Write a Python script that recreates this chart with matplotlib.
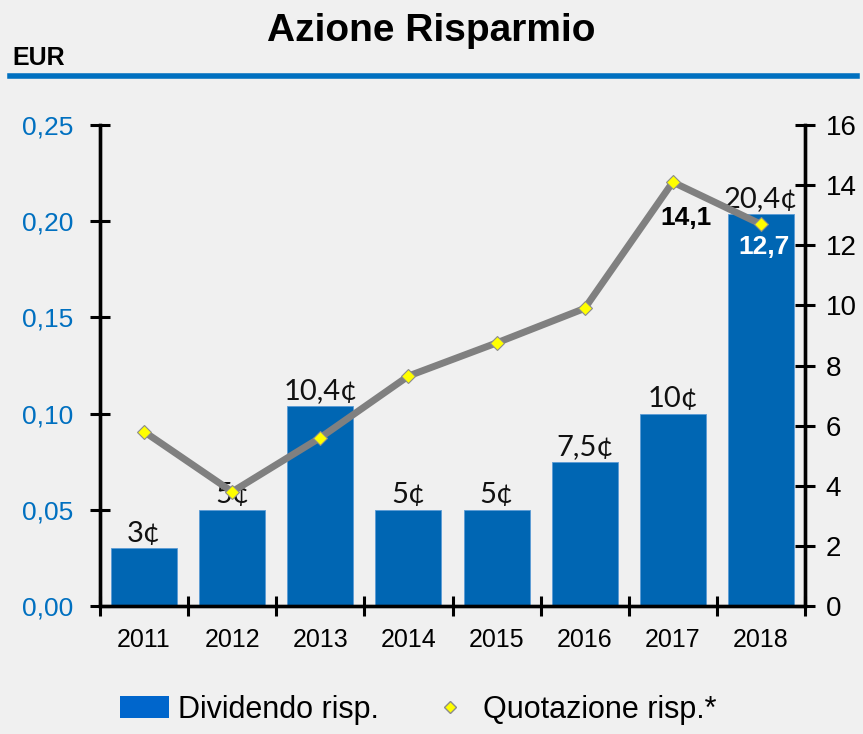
import numpy as np
import matplotlib
matplotlib.use("Agg")
import matplotlib.pyplot as plt
from matplotlib.lines import Line2D
from matplotlib.patches import Patch

anni = ["2011", "2012", "2013", "2014", "2015", "2016", "2017", "2018"]
dividendo = [0.03, 0.05, 0.104, 0.05, 0.05, 0.075, 0.10, 0.204]
etichette_div = ["3¢", "5¢", "10,4¢", "5¢", "5¢", "7,5¢", "10¢", "20,4¢"]
quotazione = [5.8, 3.8, 5.6, 7.65, 8.75, 9.9, 14.1, 12.7]
tick_sx = [0.0, 0.05, 0.10, 0.15, 0.20, 0.25]
tick_dx = [0, 2, 4, 6, 8, 10, 12, 14, 16]

BLU = "#0066b3"
BLU_TICK = "#0070c0"
SFONDO = "#f0f0f0"
SANS = ["Liberation Sans", "DejaVu Sans"]
ETIC = ["Lato", "DejaVu Sans"]

fig = plt.figure(figsize=(8.63, 7.34), dpi=100, facecolor=SFONDO)
ax = fig.add_axes([100 / 863, 1 - 606 / 734, 705 / 863, 481 / 734])
ax.set_facecolor(SFONDO)
ax2 = ax.twinx()

x = np.arange(len(anni))
ax.bar(x, dividendo, width=0.75, color=BLU, edgecolor="#5b9bd5", linewidth=0.6, zorder=2)
for xi, v, t in zip(x, dividendo, etichette_div):
    ax.annotate(t, (xi, v), xytext=(0, 1), textcoords="offset points",
                ha="center", va="bottom", fontsize=21, family=ETIC, color="#111111")

ax.set_xlim(-0.5, len(anni) - 0.5)
ax.set_ylim(0, 0.25)
ax.set_yticks(tick_sx)
ax.set_yticklabels([f"{t:.2f}".replace(".", ",") for t in tick_sx],
                   color=BLU_TICK, fontsize=19, family=SANS)
ax.set_xticks(x)
ax.set_xticklabels(anni, fontsize=18, family=SANS)
ax.set_xticks(np.arange(-0.5, len(anni), 1), minor=True)
ax.tick_params(axis="x", which="major", length=0, pad=16)
ax.tick_params(axis="x", which="minor", direction="inout", length=14, width=2.2)
ax.tick_params(axis="y", direction="inout", length=14, width=2.2, pad=12)

ax2.plot(x, quotazione, color="#808080", linewidth=5, zorder=3)
ax2.plot(x, quotazione, linestyle="none", marker="D", markersize=7,
         markerfacecolor="#ffff00", markeredgecolor="#8c8c8c", markeredgewidth=0.8, zorder=4)
ax2.set_ylim(0, 16)
ax2.set_yticks(tick_dx)
ax2.set_yticklabels([str(t) for t in tick_dx], fontsize=20, family=SANS)
ax2.tick_params(axis="y", direction="inout", length=14, width=2.2, pad=8)
ax2.text(6.15, 14.1 - 0.8, "14,1", ha="center", va="top", fontsize=19,
         fontweight="bold", family=SANS, color="black", zorder=5)
ax2.text(7.04, 12.7 - 0.35, "12,7", ha="center", va="top", fontsize=19,
         fontweight="bold", family=SANS, color="white", zorder=5)

for a in (ax, ax2):
    a.spines["top"].set_visible(False)
    for s in ("left", "right", "bottom"):
        a.spines[s].set_linewidth(2.4)
        a.spines[s].set_color("black")

ax.set_zorder(ax2.get_zorder() - 1)
ax2.patch.set_visible(False)

fig.text(0.5, 1 - 31 / 734, "Azione Risparmio", ha="center", va="center",
         fontsize=28, fontweight="bold", family=SANS)
fig.text(12 / 863, 1 - 58 / 734, "EUR", ha="left", va="center",
         fontsize=18, fontweight="bold", family=SANS)
fig.add_artist(Line2D([10 / 863, 857 / 863], [1 - 76 / 734, 1 - 76 / 734],
                      color=BLU_TICK, linewidth=4, transform=fig.transFigure))

handles = [Patch(facecolor="#0066cc", edgecolor="none"),
           Line2D([], [], linestyle="none", marker="D", markersize=6,
                  markerfacecolor="#ffff00", markeredgecolor="#8c8c8c")]
fig.legend(handles, ["Dividendo risp.", "Quotazione risp.*"], loc="lower center",
           bbox_to_anchor=(0.485, -0.025), ncol=2, frameon=False,
           prop={"family": SANS, "size": 22}, handlelength=1.6, handleheight=0.7,
           handletextpad=0.3, columnspacing=1.5)

fig.savefig("out.png", dpi=100, facecolor=SFONDO)
